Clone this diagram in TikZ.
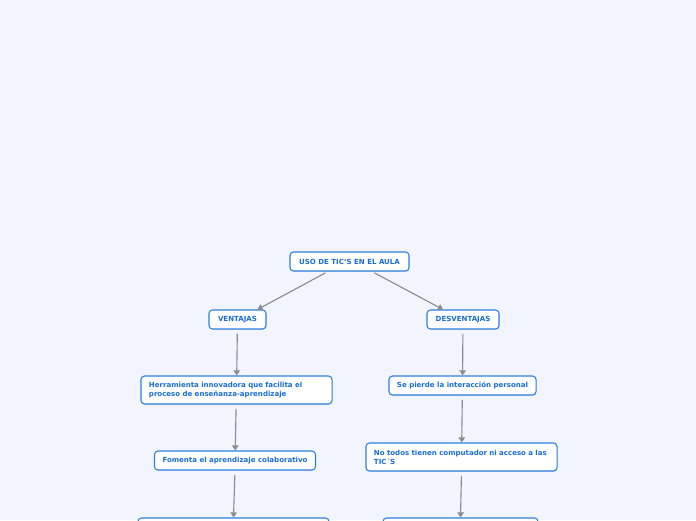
\documentclass[tikz,border=0pt]{standalone}
\usepackage{fontspec}
\setmainfont{DejaVu Sans}
\usetikzlibrary{arrows.meta, shadows}
\definecolor{bgpaper}{HTML}{F2F5FD}
\definecolor{mapblue}{HTML}{2C7FE3}
\definecolor{maptext}{HTML}{1A6DD6}
\definecolor{mapgray}{HTML}{8A8C91}

\begin{document}
\begin{tikzpicture}[
  x=0.025cm, y=-0.025cm,
  font=\fontsize{5}{6.4}\selectfont\bfseries,
  topic/.style={draw=mapblue, line width=0.75pt, fill=white, rounded corners=2.5pt, text=maptext,
    align=center, minimum height=0.475cm, inner xsep=0.2cm, inner ysep=1pt,
    drop shadow={opacity=0.18, shadow xshift=0.4pt, shadow yshift=-0.6pt}},
  idea/.style={topic, align=left, text width=4.375cm, minimum height=0.7cm},
  arr/.style={-{Triangle[length=3.6pt, width=4.6pt]}, mapgray, line width=0.8pt},
]
\useasboundingbox (0,0) rectangle (696,520);
\fill[bgpaper] (0,0) rectangle (696,520);
\clip (0,0) rectangle (696,520);

% ---- root
\node[topic, minimum width=2.975cm] (uso) at (349.5,261.5) {USO DE TIC\char"0060S EN EL AULA};

% ---- ventajas
\node[topic, minimum width=1.425cm] (ven) at (237.5,319.5) {VENTAJAS};
\node[idea] (herr) at (236.5,390) {Herramienta innovadora que facilita el\\proceso de enseñanza-aprendizaje};
\node[topic, minimum width=4.0cm] (fom) at (235,460.5) {Fomenta el aprendizaje colaborativo};
\node[topic, minimum width=4.775cm, minimum height=0.7cm] (ven4) at (233.5,532) {};

% ---- desventajas
\node[topic, minimum width=1.8cm] (des) at (463,319.5) {DESVENTAJAS};
\node[topic, minimum width=3.625cm] (per) at (462.5,385.5) {Se pierde la interacción personal};
\node[idea] (acc) at (461.5,457) {No todos tienen computador ni acceso a las\\TIC´S};
\node[topic, minimum width=3.875cm, minimum height=0.7cm] (des4) at (460.5,532) {};

% ---- connectors
\draw[arr, shorten <=2pt] ([xshift=-0.54cm]uso.south) -- ([xshift=0.5cm]ven.north);
\draw[arr, shorten <=2pt] ([xshift=0.56cm]uso.south) -- ([xshift=-0.5cm]des.north);
\draw[arr, shorten <=3pt] (ven) -- (herr);
\draw[arr, shorten <=3pt] (herr) -- (fom);
\draw[arr, shorten <=3pt] (fom.south) -- (ven4.north);
\draw[arr, shorten <=3pt] (des) -- (per);
\draw[arr, shorten <=3pt] (per) -- (acc);
\draw[arr, shorten <=3pt] (acc.south) -- (des4.north);
\end{tikzpicture}
\end{document}
